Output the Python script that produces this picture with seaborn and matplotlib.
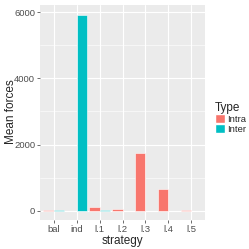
import matplotlib
matplotlib.use("Agg")
import matplotlib.pyplot as plt
import seaborn as sns
import pandas as pd
from matplotlib.patches import Patch

strategies = ["bal", "ind", "l.1", "l.2", "l.3", "l.4", "l.5"]
intra = [18, 3, 121, 50, 1743, 655, 30]
inter = [22, 5920, 8, 5, 5, 5, 5]
types = ["Intra", "Inter"]
colors = ["#F8766D", "#00BFC4"]

df = pd.DataFrame({
    "strategy": strategies * 2,
    "value": intra + inter,
    "Type": ["Intra"] * len(strategies) + ["Inter"] * len(strategies),
})

sns.set_theme(style="darkgrid")
plt.rcParams['font.family'] = ['Liberation Sans', 'DejaVu Sans']
fig = plt.figure(figsize=(2.49, 2.49), dpi=100)
ax = fig.add_axes([40/249, 29/249, 165/249, 215/249])
ax.set_facecolor("#EBEBEB")

sns.barplot(data=df, x="strategy", y="value", hue="Type", order=strategies,
            hue_order=types, palette=colors, width=0.9, ax=ax,
            edgecolor="white", linewidth=0.4, legend=False, saturation=1)

ax.set_xlim(-0.6, 6.6)
ax.set_ylim(-281, 6215)
ax.set_yticks([0, 2000, 4000, 6000])
ax.set_yticks([1000, 3000, 5000], minor=True)
ax.grid(True, which="major", color="white", linewidth=0.8)
ax.grid(True, which="minor", axis="y", color="white", linewidth=0.4)
ax.set_axisbelow(True)
for s in ax.spines.values():
    s.set_visible(False)
ax.tick_params(axis="both", which="major", length=2, width=0.5, color="#333333",
               labelsize=6.8, labelcolor="#4D4D4D", pad=1.5, bottom=True, left=True)
ax.tick_params(axis="both", which="minor", length=0)
ax.set_xlabel("strategy", fontsize=8.5, labelpad=1)
ax.set_ylabel("")
fig.text(11/249, 1 - 112/249, "Mean forces", rotation=90, fontsize=8.5,
         ha="center", va="center")

handles = [Patch(facecolor=c, edgecolor="white", label=t) for t, c in zip(types, colors)]
leg = fig.legend(handles=handles, title="Type", loc="upper left",
                 bbox_to_anchor=(208/249, 1 - 95/249), frameon=False,
                 fontsize=6.8, title_fontsize=8.5, handlelength=1.1, handleheight=1.1,
                 handletextpad=0.2, labelspacing=0.05, borderpad=0.2)
leg._legend_box.align = "left"

fig.savefig("out.png", dpi=100)
